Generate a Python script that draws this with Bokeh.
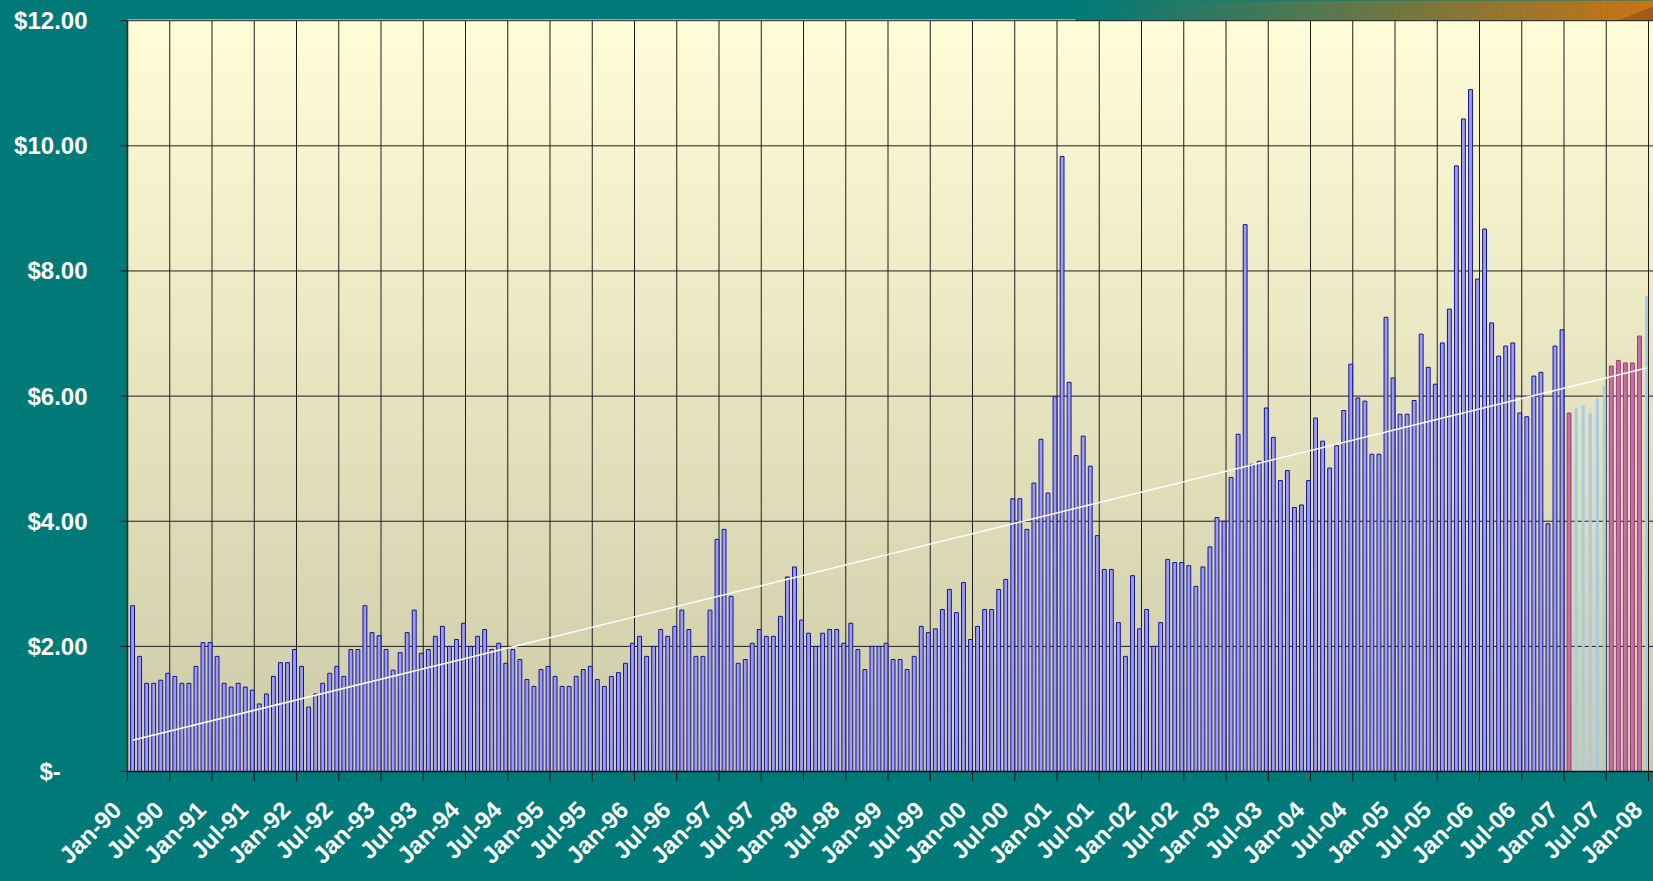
import numpy as np
from bokeh.plotting import figure
from bokeh.models import FixedTicker, AllLabels
from bokeh.embed import file_html
from bokeh.resources import INLINE

# ---------------- data (monthly average price, $) ----------------
prices_1990_1994 = [
    2.65, 1.84, 1.41, 1.41, 1.46, 1.57, 1.52, 1.41, 1.41, 1.68, 2.06, 2.06,
    1.84, 1.41, 1.35, 1.41, 1.35, 1.30, 1.08, 1.24, 1.52, 1.74, 1.74, 1.95,
    1.68, 1.03, 1.24, 1.41, 1.57, 1.68, 1.52, 1.95, 1.95, 2.65, 2.22, 2.17,
    1.95, 1.62, 1.90, 2.22, 2.58, 1.89, 1.95, 2.16, 2.32, 2.00, 2.11, 2.37,
    2.00, 2.16, 2.27, 1.95, 2.05, 1.73, 1.95, 1.79, 1.47, 1.36, 1.63, 1.68]
prices_1995_1999 = [
    1.52, 1.36, 1.36, 1.52, 1.63, 1.68, 1.47, 1.36, 1.52, 1.58, 1.73, 2.05,
    2.16, 1.84, 2.00, 2.27, 2.16, 2.32, 2.58, 2.27, 1.84, 1.84, 2.58, 3.71,
    3.87, 2.80, 1.73, 1.79, 2.05, 2.27, 2.16, 2.16, 2.48, 3.11, 3.27, 2.42,
    2.21, 2.00, 2.21, 2.27, 2.27, 2.05, 2.37, 1.95, 1.63, 2.00, 2.00, 2.05,
    1.79, 1.79, 1.63, 1.84, 2.32, 2.22, 2.28, 2.59, 2.91, 2.54, 3.02, 2.11]
prices_2000_2004 = [
    2.32, 2.59, 2.59, 2.91, 3.07, 4.36, 4.36, 3.87, 4.61, 5.31, 4.45, 5.99,
    9.83, 6.22, 5.05, 5.36, 4.88, 3.77, 3.23, 3.23, 2.38, 1.84, 3.13, 2.28,
    2.59, 2.00, 2.38, 3.39, 3.34, 3.34, 3.29, 2.96, 3.27, 3.59, 4.06, 4.00,
    4.70, 5.39, 8.74, 4.91, 4.96, 5.81, 5.34, 4.65, 4.81, 4.22, 4.26, 4.65,
    5.65, 5.28, 4.85, 5.21, 5.77, 6.51, 5.97, 5.92, 5.07, 5.07, 7.26, 6.29]
prices_2005_2006 = [
    5.71, 5.71, 5.93, 6.99, 6.46, 6.19, 6.85, 7.39, 9.68, 10.43, 10.90, 7.87,
    8.67, 7.17, 6.64, 6.80, 6.85, 5.73, 5.67, 6.32, 6.38, 3.96, 6.80, 7.06]
prices_2007 = [5.73, 5.80, 5.85, 5.73, 5.95, 6.16, 6.48, 6.57, 6.53, 6.53, 6.96, 7.60]
series_2007 = ["B", "C", "C", "C", "C", "C", "B", "B", "B", "B", "B", "C"]

trend_months = ["Jan-90", "Dec-07"]
trend_values = [0.50, 6.45]

y_ticks = [0, 2, 4, 6, 8, 10, 12]
y_tick_labels = ["$-\u00a0\u00a0\u00a0\u00a0", "$2.00", "$4.00", "$6.00", "$8.00", "$10.00", "$12.00"]

x_tick_labels = [
    "Jan-90", "Jul-90", "Jan-91", "Jul-91", "Jan-92", "Jul-92", "Jan-93", "Jul-93",
    "Jan-94", "Jul-94", "Jan-95", "Jul-95", "Jan-96", "Jul-96", "Jan-97", "Jul-97",
    "Jan-98", "Jul-98", "Jan-99", "Jul-99", "Jan-00", "Jul-00", "Jan-01", "Jul-01",
    "Jan-02", "Jul-02", "Jan-03", "Jul-03", "Jan-04", "Jul-04", "Jan-05", "Jul-05",
    "Jan-06", "Jul-06", "Jan-07", "Jul-07", "Jan-08"]

# ---------------- layout constants ----------------
W, H = 1653, 881
TEAL = "#007A79"
PX_PER_MONTH = 42.25 / 6.0
PX_PER_DOLLAR = 62.73
FRAME_LEFT = 115
AXIS_X_PX = 127
AXIS_Y_PX = 773
TICK_PX = 10
YTICK_PX = 7
FRAME_BOTTOM_PX = AXIS_Y_PX + TICK_PX
BAR_OFFSET = 0.72
LABEL_SHIFT = -1.5   # months: rotated label ends sit a little left of their tick

MONTHS = ["Jan", "Feb", "Mar", "Apr", "May", "Jun", "Jul", "Aug", "Sep", "Oct", "Nov", "Dec"]


def month_index(lbl):
    m, y = lbl.split("-")
    yr = 1900 + int(y) if int(y) >= 50 else 2000 + int(y)
    return (yr - 1990) * 12 + MONTHS.index(m)


x_start = -(AXIS_X_PX - FRAME_LEFT) / PX_PER_MONTH
x_end = x_start + (W - FRAME_LEFT) / PX_PER_MONTH
y_end = AXIS_Y_PX / PX_PER_DOLLAR
y_start = -TICK_PX / PX_PER_DOLLAR

p = figure(width=W, height=H, x_range=(x_start, x_end), y_range=(y_start, y_end),
           output_backend="svg", toolbar_location=None,
           min_border_left=FRAME_LEFT, min_border_right=0, min_border_top=0,
           min_border_bottom=H - FRAME_BOTTOM_PX,
           background_fill_color=TEAL, border_fill_color=TEAL, outline_line_color=None)
p.xgrid.visible = False
p.ygrid.visible = False

# y axis (labels; tick marks drawn at the value-axis line below)
ya = p.yaxis[0]
ya.ticker = FixedTicker(ticks=y_ticks)
ya.major_label_overrides = {t: s for t, s in zip(y_ticks, y_tick_labels)}
ya.axis_line_color = None
ya.major_tick_out = 0
ya.major_tick_in = 0
ya.major_tick_line_color = None
ya.minor_tick_line_color = None
ya.major_label_standoff = FRAME_LEFT - 87
ya.major_label_text_color = "white"
ya.major_label_text_font = "Liberation Sans"
ya.major_label_text_font_style = "bold"
ya.major_label_text_font_size = "24px"

# x axis (labels only; its line and tick marks are drawn at the $0 level below)
tick_months = [month_index(s) for s in x_tick_labels]
label_pos = [m + LABEL_SHIFT for m in tick_months]
xa = p.xaxis[0]
xa.ticker = FixedTicker(ticks=label_pos)
xa.major_label_overrides = {t: s for t, s in zip(label_pos, x_tick_labels)}
xa.major_label_policy = AllLabels()
xa.axis_line_color = None
xa.major_tick_line_color = None
xa.minor_tick_line_color = None
xa.major_tick_out = 0
xa.major_tick_in = 0
xa.major_label_orientation = np.pi / 4
xa.major_label_standoff = 24
xa.major_label_text_color = "white"
xa.major_label_text_font = "Liberation Sans"
xa.major_label_text_font_style = "bold"
xa.major_label_text_font_size = "24px"


def hex2rgb(h):
    h = h.lstrip("#")
    return np.array([int(h[i:i + 2], 16) for i in (0, 2, 4)], dtype=float)


def rgb2hex(c):
    return "#%02x%02x%02x" % tuple(int(round(v)) for v in c)


# plot-area vertical gradient
n = 90
edges = np.linspace(0, 12, n + 1)
top_c, bot_c = hex2rgb("#FFFDD7"), hex2rgb("#CDCAA7")
cols = [rgb2hex(bot_c + (top_c - bot_c) * ((edges[i] + edges[i + 1]) / 24.0)) for i in range(n)]
p.quad(left=0, right=x_end + 1, bottom=edges[:-1], top=edges[1:] + 0.02, fill_color=cols, line_color=None)

# decorative top band (teal -> orange)
gx0 = (1075 - AXIS_X_PX) / PX_PER_MONTH
gn = 100
gedges = np.linspace(gx0, x_end, gn + 1)
c0, c1 = hex2rgb(TEAL), hex2rgb("#CC7412")
gcols = [rgb2hex(c0 + (c1 - c0) * (i + 0.5) / gn) for i in range(gn)]
p.quad(left=gedges[:-1], right=gedges[1:] + 0.05, bottom=12, top=y_end + 1, fill_color=gcols, line_color=None)
wx = (1617 - AXIS_X_PX) / PX_PER_MONTH
p.patch(x=[wx, x_end + 1, x_end + 1], y=[12, 12, (AXIS_Y_PX - 3) / PX_PER_DOLLAR],
        fill_color="#A35A1A", line_color=None)

# grid lines
hgrid = [t for t in y_ticks if t > 0]
p.segment(x0=0, x1=x_end + 1, y0=hgrid, y1=hgrid, line_color="#1E1E1E", line_width=1)
vgrid = [m for m in tick_months if m > 0]
p.segment(x0=vgrid, x1=vgrid, y0=0, y1=12, line_color="#1E1E1E", line_width=1)

# bars
hist = prices_1990_1994 + prices_1995_1999 + prices_2000_2004 + prices_2005_2006
x_hist = np.arange(len(hist)) + BAR_OFFSET
p.vbar(x=x_hist, top=hist, bottom=0, width=0.55,
       fill_color="#9C9CF2", line_color="#14148C", line_width=1)

base07 = len(hist)
xb = [base07 + i + BAR_OFFSET for i, s in enumerate(series_2007) if s == "B"]
yb = [v for v, s in zip(prices_2007, series_2007) if s == "B"]
xc = [base07 + i + BAR_OFFSET for i, s in enumerate(series_2007) if s == "C"]
yc = [v for v, s in zip(prices_2007, series_2007) if s == "C"]
p.vbar(x=xc, top=yc, bottom=0, width=0.28, fill_color="#A6CAEE", line_color="#A6CAEE", line_width=1)
p.vbar(x=xb, top=yb, bottom=0, width=0.55, fill_color="#C470A6", line_color="#9B3D78", line_width=1)

# trend line
p.line(x=[month_index(m) + BAR_OFFSET for m in trend_months], y=trend_values,
       line_color="white", line_width=1.5)

# $0 axis line, value-axis line, date tick marks and value tick marks
p.segment(x0=0, x1=x_end + 1, y0=0, y1=0, line_color="#111111", line_width=1.5)
p.segment(x0=0, x1=0, y0=0, y1=12, line_color="#222222", line_width=1.5)
p.segment(x0=tick_months, x1=tick_months, y0=0, y1=y_start,
          line_color="#111111", line_width=1)
p.segment(x0=-YTICK_PX / PX_PER_MONTH, x1=0, y0=y_ticks, y1=y_ticks,
          line_color="#111111", line_width=1)

html = file_html(p, INLINE, title="Monthly price")
html = html.replace("</head>",
                    "<style>html,body{margin:0;padding:0;background:%s;overflow:hidden}</style></head>" % TEAL, 1)
open("out.html", "w").write(html)
